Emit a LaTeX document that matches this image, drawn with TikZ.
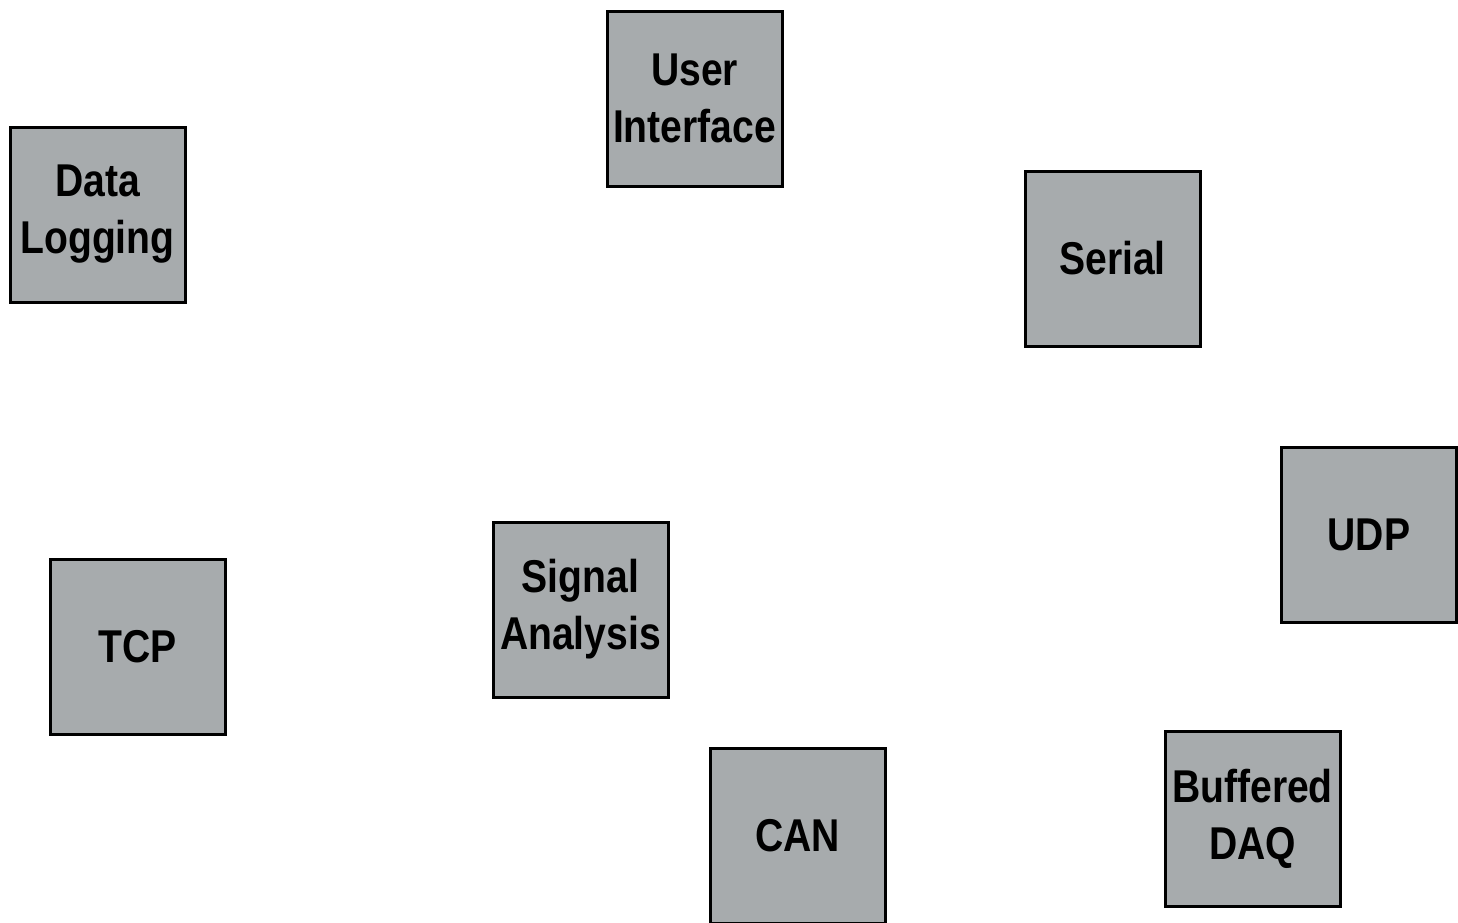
\documentclass[tikz,border=0pt]{standalone}
\usepackage{fontspec}
\setmainfont[FakeStretch=0.85]{Liberation Sans}
\begin{document}
\begin{tikzpicture}[x=1pt,y=-1pt,
  box/.style={draw=black, line width=3pt, fill=boxgray, minimum width=175pt, minimum height=175pt, inner sep=0pt, align=center,
    font=\fontsize{46}{57}\selectfont\bfseries}]
\definecolor{boxgray}{HTML}{A7ABAD}
\useasboundingbox (0,0) rectangle (1458,922);
\fill[white] (0,0) rectangle (1458,922);
\node[box] (ui) at (694.5,98.5) {User\\Interface};
\node[box] (dl) at (97.5,214.5) {Data\\Logging};
\node[box] (serial) at (1112.5,258.5) {Serial};
\node[box] (udp) at (1369,534.5) {UDP};
\node[box] (tcp) at (137.5,646.5) {TCP};
\node[box] (sa) at (580.5,609.5) {Signal\\Analysis};
\node[box] (can) at (797.5,836) {CAN};
\node[box] (bdaq) at (1252.5,818.5) {Buffered\\DAQ};
\end{tikzpicture}
\end{document}
